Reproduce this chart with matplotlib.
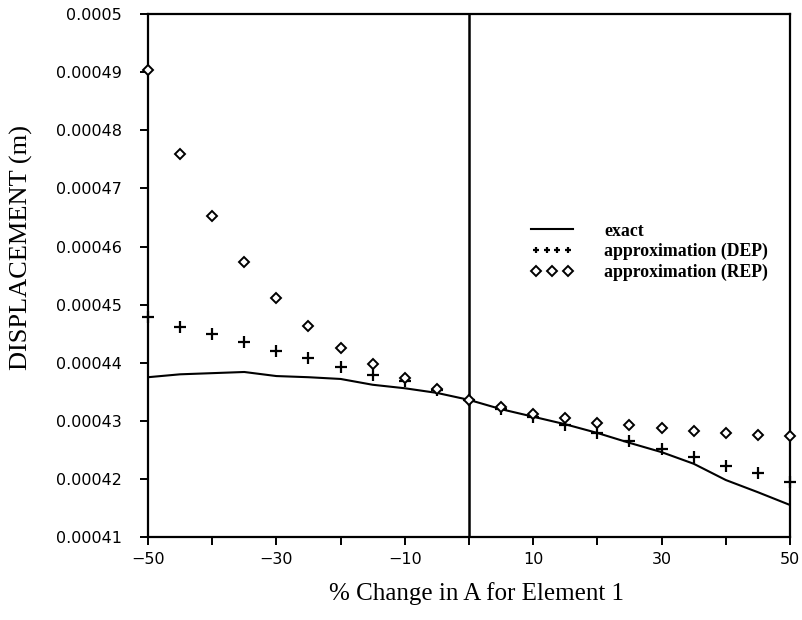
import matplotlib
matplotlib.use("Agg")
import matplotlib.pyplot as plt
from matplotlib.legend_handler import HandlerLine2D

# % change in A for element 1
pct_change = [-50, -45, -40, -35, -30, -25, -20, -15, -10, -5, 0,
              5, 10, 15, 20, 25, 30, 35, 40, 45, 50]

exact = [0.0004375, 0.0004380, 0.0004382, 0.0004384, 0.0004377, 0.0004375,
         0.0004372, 0.0004362, 0.0004356, 0.0004348, 0.0004336,
         0.0004320, 0.0004307, 0.0004294, 0.0004279, 0.0004262,
         0.0004246, 0.0004226, 0.0004198, 0.0004177, 0.0004155]

approx_dep = [0.0004479, 0.0004462, 0.0004449, 0.0004436, 0.0004421, 0.0004408,
              0.0004393, 0.0004379, 0.0004368, 0.0004353, 0.0004336,
              0.0004320, 0.0004307, 0.0004293, 0.0004279, 0.0004265,
              0.0004251, 0.0004238, 0.0004222, 0.0004210, 0.0004195]

approx_rep = [0.0004904, 0.0004759, 0.0004652, 0.0004573, 0.0004511, 0.0004463,
              0.0004426, 0.0004397, 0.0004373, 0.0004354, 0.0004336,
              0.0004323, 0.0004312, 0.0004304, 0.0004297, 0.0004292,
              0.0004287, 0.0004282, 0.0004279, 0.0004276, 0.0004273]

x_ticks = [-50, -40, -30, -20, -10, 0, 10, 20, 30, 40, 50]
x_tick_labels = ["\u221250", "", "\u221230", "", "\u221210", "", "10", "", "30", "", "50"]
y_ticks = [0.00041, 0.00042, 0.00043, 0.00044, 0.00045,
           0.00046, 0.00047, 0.00048, 0.00049, 0.0005]
y_tick_labels = ["0.00041", "0.00042", "0.00043", "0.00044", "0.00045",
                 "0.00046", "0.00047", "0.00048", "0.00049", "0.0005"]

fig = plt.figure(figsize=(8.02, 6.2), dpi=100)
ax = fig.add_axes([0.1845, 0.134, 0.8005, 0.843])

ax.plot(pct_change, exact, color="black", lw=1.5, label="exact", zorder=3)
ax.plot(pct_change, approx_dep, ls="none", marker="+", ms=8, mew=1.6,
        color="black", label="approximation (DEP)", zorder=4, clip_on=False)
ax.plot(pct_change, approx_rep, ls="none", marker="D", ms=5, mew=1.4,
        mfc="white", mec="black", label="approximation (REP)", zorder=5,
        clip_on=False)
ax.axvline(0, color="black", lw=1.8, zorder=2)

ax.set_xlim(-50, 50)
ax.set_ylim(0.00041, 0.0005)
ax.set_xticks(x_ticks)
ax.set_xticklabels(x_tick_labels)
ax.set_yticks(y_ticks)
ax.set_yticklabels(y_tick_labels)

for s in ax.spines.values():
    s.set_linewidth(1.6)
ax.tick_params(axis="both", direction="out", length=6, width=1.4,
               labelsize=11.5, color="black")
ax.tick_params(axis="y", pad=13)
ax.tick_params(axis="x", pad=5)

ax.set_xlabel("% Change in A for Element 1", family="Liberation Serif",
              fontsize=18)
ax.xaxis.set_label_coords(0.5125, -0.087)
ax.set_ylabel("DISPLACEMENT (m)", family="Liberation Serif", fontsize=19)
ax.yaxis.set_label_coords(-0.179, 0.553)

handles, labels = ax.get_legend_handles_labels()
leg = ax.legend(handles, labels, loc="upper left",
                bbox_to_anchor=(0.571, 0.632), frameon=False,
                handlelength=2.4, handletextpad=1.75, labelspacing=0.2,
                prop={"family": "Liberation Serif", "weight": "bold", "size": 12.8},
                handler_map={handles[1]: HandlerLine2D(numpoints=4),
                             handles[2]: HandlerLine2D(numpoints=3)})
for h in leg.legend_handles[1:]:
    h.set_markersize(5)

fig.savefig("out.png", dpi=100)
